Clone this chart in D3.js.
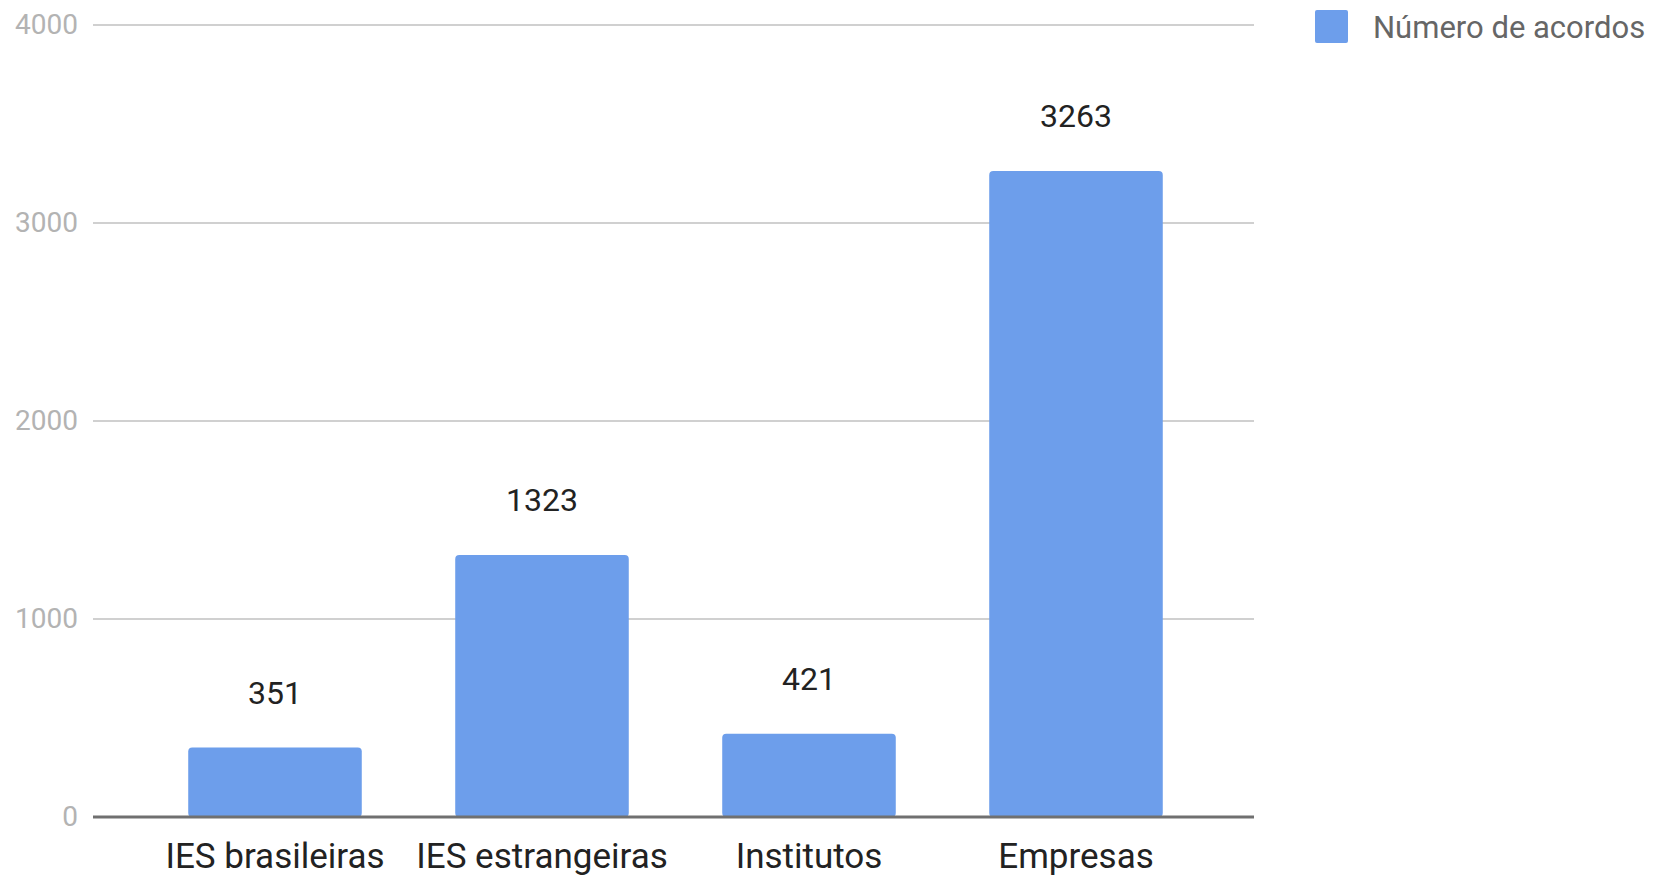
<!DOCTYPE html>
<html>
<head>
<meta charset="utf-8">
<script src="https://cdn.jsdelivr.net/npm/d3@7"></script>
<style>
  body { margin: 0; background: #fff; }
  svg { display: block; font-family: Roboto, "Noto Sans", sans-serif; }
</style>
</head>
<body>
<svg id="chart" width="1657" height="877"></svg>
<script>
// data
var categories = ["IES brasileiras", "IES estrangeiras", "Institutos", "Empresas"];
var acordos = [351, 1323, 421, 3263];
var yTicks = [0, 1000, 2000, 3000, 4000];
var seriesName = "Número de acordos";

var svg = d3.select("#chart");

var x = d3.scaleBand()
    .domain(categories)
    .range([141.5, 1209.5])
    .paddingInner(0.35)
    .paddingOuter(0.175);

var y = d3.scaleLinear()
    .domain([0, 4000])
    .range([817, 25]);

// gridlines + tick labels
var yAxis = d3.axisLeft(y).tickValues(yTicks).tickFormat(d3.format("d")).tickSize(0).tickPadding(15);
var gy = svg.append("g")
    .attr("transform", "translate(93,0)")
    .call(yAxis);
gy.select(".domain").remove();
gy.selectAll("text")
    .attr("fill", "#b3b3b3")
    .style("font-size", "28px")
    .style("font-family", "Roboto, sans-serif");

svg.append("g").selectAll("line")
    .data(yTicks.filter(function (d) { return d !== 0; }))
    .enter().append("line")
    .attr("x1", 93).attr("x2", 1254)
    .attr("y1", function (d) { return y(d); })
    .attr("y2", function (d) { return y(d); })
    .attr("stroke", "#d0d0d0")
    .attr("stroke-width", 2);

// bars
var data = categories.map(function (c, i) { return { cat: c, v: acordos[i] }; });
svg.append("g").selectAll("rect")
    .data(data)
    .enter().append("rect")
    .attr("x", function (d) { return x(d.cat); })
    .attr("width", x.bandwidth())
    .attr("y", function (d) { return y(d.v); })
    .attr("height", function (d) { return y(0) - y(d.v); })
    .attr("rx", 4)
    .attr("fill", "#6d9eeb");

// value labels
svg.append("g").selectAll("text")
    .data(data)
    .enter().append("text")
    .attr("x", function (d) { return x(d.cat) + x.bandwidth() / 2; })
    .attr("y", function (d) { return y(d.v) - 44; })
    .attr("text-anchor", "middle")
    .attr("fill", "#222")
    .style("font-size", "32px")
    .text(function (d) { return d.v; });

// baseline
svg.append("line")
    .attr("x1", 93).attr("x2", 1254)
    .attr("y1", y(0)).attr("y2", y(0))
    .attr("stroke", "#707070")
    .attr("stroke-width", 3);

// category axis
var xAxis = d3.axisBottom(x).tickSize(0).tickPadding(26);
var gx = svg.append("g")
    .attr("transform", "translate(0," + y(0) + ")")
    .call(xAxis);
gx.select(".domain").remove();
gx.selectAll("text")
    .attr("fill", "#222")
    .style("font-size", "35px")
    .style("font-family", "Roboto, sans-serif");

// legend
var lg = svg.append("g").attr("transform", "translate(1315,10)");
lg.append("rect")
    .attr("width", 33).attr("height", 33)
    .attr("rx", 2)
    .attr("fill", "#6d9eeb");
lg.append("text")
    .attr("x", 58).attr("y", 17)
    .attr("dy", "0.35em")
    .attr("fill", "#666")
    .style("font-size", "31px")
    .text(seriesName);
</script>
</body>
</html>
